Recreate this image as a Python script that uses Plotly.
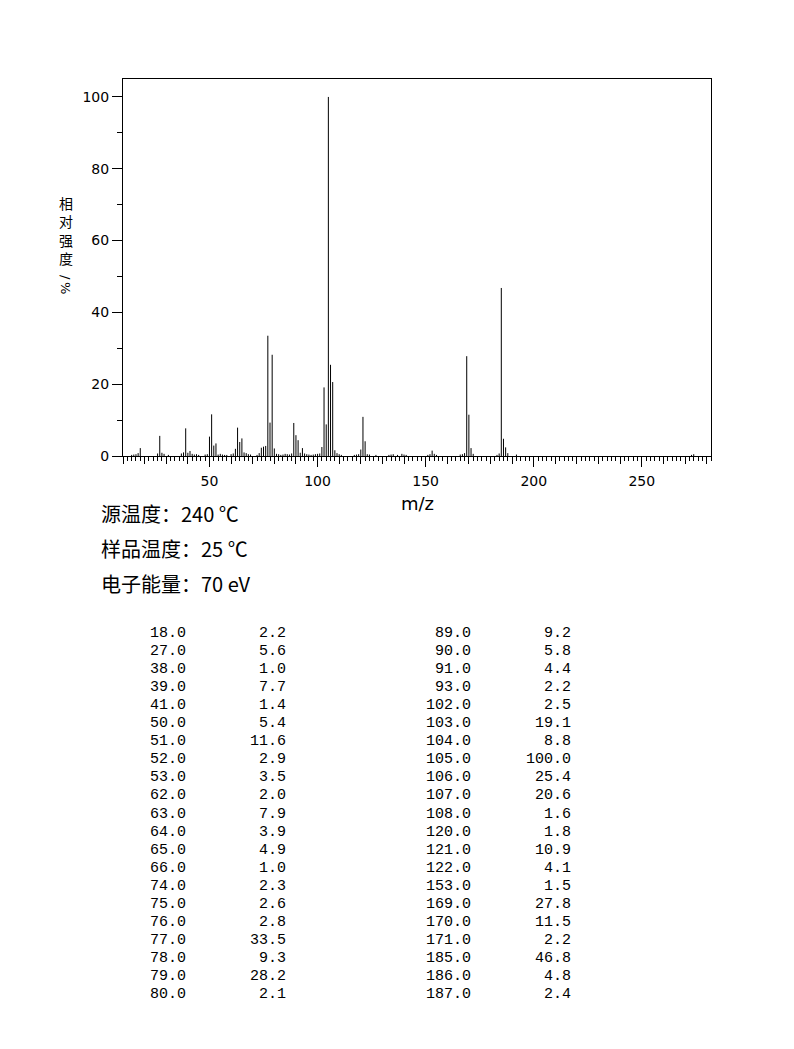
import plotly.graph_objects as go

# peaks listed in the table (m/z, relative intensity %)
mz_main = [18, 27, 38, 39, 41, 50, 51, 52, 53, 62, 63, 64, 65, 66, 74, 75, 76, 77, 78, 79, 80,
           89, 90, 91, 93, 102, 103, 104, 105, 106, 107, 108, 120, 121, 122, 153, 169, 170, 171,
           185, 186, 187]
int_main = [2.2, 5.6, 1.0, 7.7, 1.4, 5.4, 11.6, 2.9, 3.5, 2.0, 7.9, 3.9, 4.9, 1.0, 2.3, 2.6, 2.8,
            33.5, 9.3, 28.2, 2.1, 9.2, 5.8, 4.4, 2.2, 2.5, 19.1, 8.8, 100.0, 25.4, 20.6, 1.6, 1.8,
            10.9, 4.1, 1.5, 27.8, 11.5, 2.2, 46.8, 4.8, 2.4]

# small peaks (<1 %) seen in the plot only, estimated
mz_minor = [14, 15, 16, 17, 26, 28, 29, 31, 37, 40, 42, 43, 44, 45, 48, 49, 54, 55, 56, 57, 58,
            60, 61, 67, 68, 69, 72, 73, 81, 82, 83, 84, 85, 86, 87, 88, 92, 94, 95, 96, 97, 98,
            99, 100, 101, 109, 110, 111, 117, 118, 119, 123, 124, 127, 133, 134, 135, 137, 139,
            140, 141, 151, 152, 154, 155, 166, 167, 168, 172, 183, 184, 188, 192, 273, 274]
int_minor = [0.3, 0.4, 0.5, 0.8, 0.7, 0.9, 0.6, 0.3, 0.7, 0.9, 0.6, 0.4, 0.5, 0.3, 0.4, 0.5, 0.4,
             0.6, 0.4, 0.3, 0.3, 0.5, 0.7, 0.8, 0.5, 0.4, 0.3, 0.8, 0.6, 0.5, 0.3, 0.4, 0.6, 0.5,
             0.4, 0.7, 0.9, 0.7, 0.5, 0.4, 0.3, 0.4, 0.5, 0.6, 0.7, 0.8, 0.5, 0.3, 0.3, 0.4, 0.5,
             0.5, 0.4, 0.3, 0.3, 0.4, 0.5, 0.3, 0.6, 0.4, 0.3, 0.3, 0.5, 0.6, 0.3, 0.4, 0.5, 0.8,
             0.6, 0.3, 0.7, 0.8, 0.4, 0.3, 0.5]

x_ticks = [50, 100, 150, 200, 250]
y_ticks = [0, 20, 40, 60, 80, 100]

info_lines = ["源温度：240 ℃", "样品温度：25 ℃", "电子能量：70 eV"]
y_title_chars = ["相", "对", "强", "度"]
y_title_unit = ["/", "%"]

# page body has an 8px margin, so the figure is a bit smaller than the window
OFF = 8
W, H = 786, 1041
L, T = 115, 71
PW, PH = 588, 377
R, B = W - L - PW, H - T - PH


def px(x):
    return (x - OFF - L) / PW


def py(y):
    return (T + PH - (y - OFF)) / PH


def sticks(mz, inten):
    xs, ys = [], []
    for m, v in zip(mz, inten):
        xs += [m, m, None]
        ys += [0, v, None]
    return xs, ys


allx, ally = sticks(mz_minor + mz_main, int_minor + int_main)

fig = go.Figure()
fig.add_trace(go.Scatter(x=allx, y=ally, mode="lines", line=dict(color="black", width=1),
                         hoverinfo="skip", showlegend=False))
# helper trace for the second x axis (long ticks at 50s)
fig.add_trace(go.Scatter(x=[x_ticks[0]], y=[0], xaxis="x2", mode="markers",
                         marker=dict(opacity=0), showlegend=False, hoverinfo="skip"))

tick10 = list(range(10, 290, 10))
fig.update_layout(
    width=W, height=H,
    margin=dict(l=L, r=R, t=T, b=B),
    paper_bgcolor="white", plot_bgcolor="white",
    font=dict(family="DejaVu Sans", size=14, color="black"),
    xaxis=dict(range=[10, 282], showgrid=False, zeroline=False,
               showline=True, mirror=True, linecolor="black", linewidth=1,
               ticks="outside", tickvals=tick10,
               ticktext=[str(v) if v in x_ticks else "" for v in tick10],
               ticklen=7, tickcolor="black", tickwidth=1, ticklabelstandoff=5,
               minor=dict(dtick=2, tick0=0, ticks="outside", ticklen=4,
                          tickcolor="black", tickwidth=1, showgrid=False)),
    xaxis2=dict(range=[10, 282], overlaying="x", side="bottom", anchor="y",
                showgrid=False, zeroline=False, showline=False,
                ticks="outside", tickvals=x_ticks, ticklen=10, tickcolor="black",
                showticklabels=False),
    yaxis=dict(range=[0, 105], showgrid=False, zeroline=False,
               showline=True, mirror=True, linecolor="black", linewidth=1,
               ticks="outside", tickvals=y_ticks, ticklen=10, tickcolor="black",
               minor=dict(dtick=10, ticks="outside", ticklen=5, tickcolor="black",
                          showgrid=False)),
)

ann = []
# y axis title, characters stacked, unit turned sideways
for i, ch in enumerate(y_title_chars):
    ann.append(dict(x=px(66), y=py(203 + i * 18.3), text=ch, showarrow=False,
                    xref="paper", yref="paper", xanchor="center", yanchor="middle",
                    font=dict(family="Noto Sans CJK SC", size=14)))
for i, ch in enumerate(y_title_unit):
    ann.append(dict(x=px(66), y=py(277 + i * 11), text=ch, textangle=90, showarrow=False,
                    xref="paper", yref="paper", xanchor="center", yanchor="middle",
                    font=dict(family="DejaVu Sans", size=13)))
# x axis title
ann.append(dict(x=px(417), y=py(503), text="m/z", showarrow=False, xref="paper", yref="paper",
                xanchor="center", yanchor="middle", font=dict(family="DejaVu Sans", size=18)))
# instrument info
for i, s in enumerate(info_lines):
    ann.append(dict(x=px(99), y=py(514 + i * 34.5), text=s, showarrow=False,
                    xref="paper", yref="paper", xanchor="left", yanchor="middle",
                    font=dict(family="Noto Sans CJK SC", size=20)))

# peak table, two column groups
half = (len(mz_main) + 1) // 2
for i, (m, v) in enumerate(zip(mz_main, int_main)):
    col = 0 if i < half else 1
    row = i if i < half else i - half
    yy = py(633.5 + row * 18.05)
    xm = 188 + col * 285
    xv = 288 + col * 285
    ann.append(dict(x=px(xm), y=yy, text=f"{m:.1f}", showarrow=False, xref="paper",
                    yref="paper", xanchor="right", yanchor="middle",
                    font=dict(family="Liberation Mono", size=15)))
    ann.append(dict(x=px(xv), y=yy, text=f"{v:.1f}", showarrow=False, xref="paper",
                    yref="paper", xanchor="right", yanchor="middle",
                    font=dict(family="Liberation Mono", size=15)))

fig.update_layout(annotations=ann)
fig.write_html("out.html")
